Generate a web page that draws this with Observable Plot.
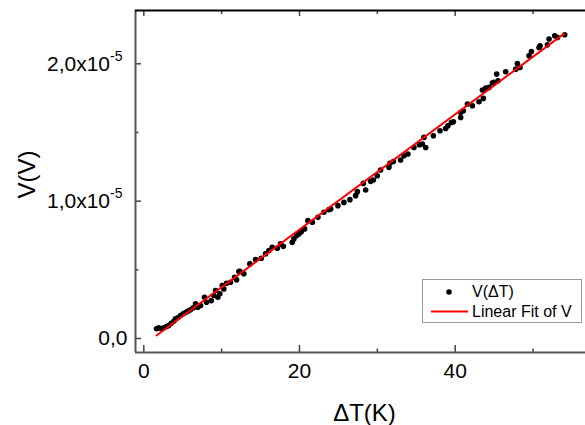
<!DOCTYPE html>
<html><head><meta charset="utf-8">
<script src="https://cdn.jsdelivr.net/npm/d3@7"></script>
<script src="https://cdn.jsdelivr.net/npm/@observablehq/plot@0.6"></script>
<style>body{margin:0;background:#fff;} svg{display:block}</style>
</head><body><div id="chart"></div>
<script>
// ---- data ----
const deltaT = [1.63,1.93,2.24,2.57,2.92,3.21,3.52,3.86,4.07,4.37,4.72,5.06,5.36,5.66,6.00,6.35,6.65,6.94,7.29,7.80,8.06,8.66,9.00,9.22,9.51,9.77,10.08,10.28,10.63,11.14,11.92,12.34,
  11.66,12.21,12.85,13.62,14.36,15.09,15.64,16.07,16.50,17.15,17.57,17.92,19.07,19.28,19.63,19.92,20.23,20.66,21.08,21.65,22.37,23.14,23.78,
  24.00,24.94,25.71,26.48,27.21,27.43,28.20,28.50,29.14,29.49,30.00,30.42,31.49,31.62,32.06,32.99,33.42,33.93,34.70,35.40,
  35.78,35.99,36.21,37.20,38.05,38.78,39.07,39.51,39.77,40.71,40.71,41.05,41.57,42.21,43.06,43.62,43.50,43.92,44.34,44.78,45.33,45.50,46.49,44.96,
  47.78,47.99,48.33,49.49,49.79,50.77,50.90,51.85,52.06,52.79,53.14,54.07];
const voltMicro = [0.71,0.78,0.71,0.78,0.87,0.95,1.11,1.26,1.43,1.51,1.67,1.80,1.89,1.99,2.09,2.23,2.52,2.28,2.40,3.00,2.64,2.76,3.13,3.49,3.00,3.25,3.85,3.61,4.02,4.09,4.27,4.89,
  4.46,4.87,4.71,5.43,5.75,5.84,6.16,6.40,6.64,6.57,6.89,6.71,7.00,7.25,7.49,7.61,7.78,7.98,8.58,8.46,8.82,9.19,9.38,
  9.43,9.67,9.91,10.11,10.40,10.69,11.29,10.81,11.44,11.54,11.85,12.27,12.46,12.75,12.89,13.00,13.31,13.43,13.91,14.11,
  14.16,14.64,13.91,14.76,15.13,15.29,15.49,15.73,15.78,16.09,16.46,16.58,17.07,16.95,17.24,17.48,18.09,18.23,18.28,18.60,19.25,18.76,19.42,18.66,
  19.61,20.02,19.73,20.58,20.89,21.19,21.31,21.38,21.80,22.04,21.91,22.11];
const fitT = [1.63, 54.0];
const fitMicro = [0.22, 22.2];
const xMajor = [0, 20, 40];
const xMinor = [10, 30, 50];
const yMajor = [0, 1e-5, 2e-5];
const yMinor = [0.5e-5, 1.5e-5];
const yTickBase = ["0,0", "1,0x10", "2,0x10"];
const yTickExp = ["", "-5", "-5"];
const xTitle = "ΔT(K)";
const yTitle = "V(V)";
const legendLabels = ["V(ΔT)", "Linear Fit of V"];

// ---- layout ----
const W = 585, H = 425, mL = 135, mT = 10, mB = 73, mR = 0;
const plotW = W - mL - mR, plotH = H - mT - mB;
const xDomain = [-1.066, 56.74];
const yDomain = [-0.102e-5, 2.388e-5];

const points = deltaT.map((t, i) => ({t, v: voltMicro[i] * 1e-6}));
const fit = fitT.map((t, i) => ({t, v: fitMicro[i] * 1e-6}));

const FONT = "'Liberation Sans', Arial, sans-serif";
const svg = Plot.plot({
  width: W, height: H, marginLeft: mL, marginRight: mR, marginTop: mT, marginBottom: mB,
  style: {fontFamily: FONT, fontSize: "21px", color: "#000", background: "#fff", overflow: "visible"},
  x: {domain: xDomain},
  y: {domain: yDomain},
  marks: [
    Plot.axisX({ticks: xMajor, tickSize: 0, tickPadding: 11, tickFormat: d => String(d), label: null, fontSize: 21}),
    Plot.axisY({ticks: yMajor, tickSize: 0, tickPadding: 8, tickFormat: d => {const k = yMajor.indexOf(d); return yTickBase[k] + (yTickExp[k] ? "^" + yTickExp[k] : "");}, label: null, fontSize: 21}),
    // ticks (inward)
    Plot.ruleX(xMajor, {x: d => d, insetTop: plotH - 7, stroke: "#444", strokeWidth: 1.5}),
    Plot.ruleX(xMinor, {x: d => d, insetTop: plotH - 3.5, stroke: "#444", strokeWidth: 1.5}),
    Plot.ruleX(xMajor, {x: d => d, insetBottom: plotH - 6, stroke: "#444", strokeWidth: 1.5}),
    Plot.ruleX(xMinor, {x: d => d, insetBottom: plotH - 4, stroke: "#444", strokeWidth: 1.5}),
    Plot.ruleY(yMajor, {y: d => d, insetRight: plotW - 6, stroke: "#444", strokeWidth: 1.5}),
    Plot.ruleY(yMinor, {y: d => d, insetRight: plotW - 3.5, stroke: "#444", strokeWidth: 1.5}),
    // frame lines
    Plot.ruleX([xDomain[0]], {x: d => d, stroke: "#555", strokeWidth: 2}),
    Plot.ruleY([yDomain[0]], {y: d => d, stroke: "#555", strokeWidth: 2}),
    Plot.ruleY([yDomain[1]], {y: d => d, stroke: "#000", strokeWidth: 2}),
    // data
    Plot.dot(points, {x: "t", y: "v", r: 2.8, fill: "#000", stroke: "none"}),
    Plot.line(fit, {x: "t", y: "v", stroke: "#ff0000", strokeWidth: 2}),
    // titles
    Plot.text([xTitle], {frameAnchor: "bottom", text: d => d, dx: 4, dy: 68, lineAnchor: "bottom", fontSize: 24, fill: "#000"}),
    Plot.text([yTitle], {frameAnchor: "left", text: d => d, rotate: -90, dx: -101, dy: 17, lineAnchor: "bottom", fontSize: 24, fill: "#000"})
  ]
});

// superscripts on y tick labels
const NS = "http://www.w3.org/2000/svg";
svg.querySelectorAll("text").forEach(t => {
  const s = t.textContent;
  if (s.includes("^")) {
    const [base, exp] = s.split("^");
    t.textContent = base;
    const sp = document.createElementNS(NS, "tspan");
    sp.setAttribute("dy", "-10");
    sp.setAttribute("font-size", "14");
    sp.textContent = exp;
    t.appendChild(sp);
    const tr = t.getAttribute("transform") || "";
    t.setAttribute("transform", tr + " translate(-5,0)");
  }
});

// legend
function el(tag, attrs, text) {
  const e = document.createElementNS(NS, tag);
  for (const k in attrs) e.setAttribute(k, attrs[k]);
  if (text != null) e.textContent = text;
  svg.appendChild(e);
  return e;
}
el("rect", {x: 422.5, y: 279.5, width: 159, height: 43, fill: "#fff", stroke: "#999", "stroke-width": 1});
el("circle", {cx: 449, cy: 292, r: 2.8, fill: "#000"});
el("line", {x1: 431, x2: 468, y1: 311.5, y2: 311.5, stroke: "#ff0000", "stroke-width": 2});
el("text", {x: 472, y: 297, "font-size": 16, "font-family": FONT, fill: "#000", "text-anchor": "start"}, legendLabels[0]);
el("text", {x: 472, y: 317, "font-size": 16, "font-family": FONT, fill: "#000", "text-anchor": "start"}, legendLabels[1]);

document.getElementById("chart").appendChild(svg);
</script>
</body></html>
